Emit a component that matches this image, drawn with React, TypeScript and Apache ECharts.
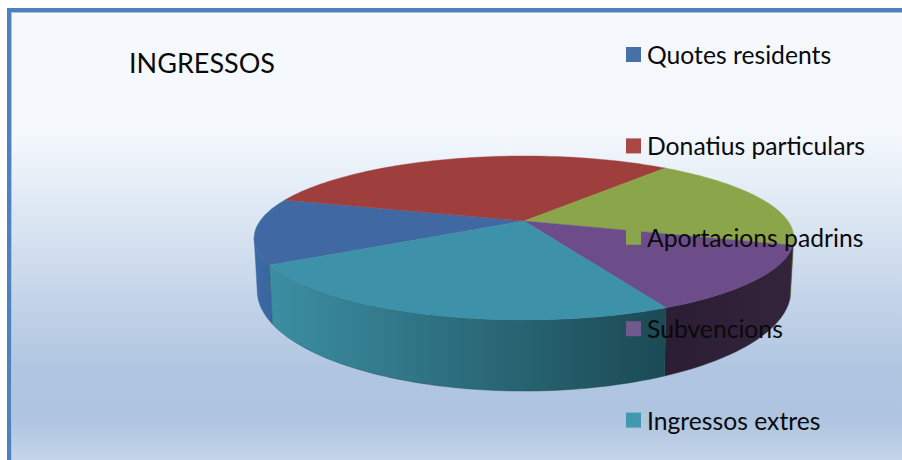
import React, { useEffect, useRef } from "react";
import * as echarts from "echarts";

const categories = ["Quotes residents", "Donatius particulars", "Aportacions padrins", "Subvencions", "Ingressos extres"];
const shares = [13, 31.1, 19, 13.1, 23.8];
const topColors = ["#4069a3", "#9e3f3d", "#8ba54a", "#6d4c8a", "#3d91a8"];
const legendColors = ["#4671a8", "#aa4643", "#89a54e", "#71588f", "#4198af"];
const sideColors = [
  ["#3c6ba8", "#3a659c"],
  ["#7a2f2d", "#7a2f2d"],
  ["#6b8038", "#5c6e30"],
  ["#2b1d33", "#33243c"],
  ["#3c8ea3", "#1b4a54"],
];
const START_DEG = 239.7;
const SILHOUETTE_RIGHT = 102;
const SILHOUETTE_LEFT = 258;

const PERSPECTIVE = 0.207;
const TOP = { cx: 524, cy: 221, a: 78.5, b: 264 };
const BOTTOM = { cx: 524, cy: 270, a: 96, b: 261 };

function project(d: { cx: number; cy: number; a: number; b: number }, deg: number) {
  const t = (deg * Math.PI) / 180;
  const X = Math.sin(t);
  const Y = -Math.cos(t);
  const w = 1 - PERSPECTIVE * Y;
  return [d.cx + (d.b * X) / w, d.cy + (d.a * Y) / w];
}

function arc(d: typeof TOP, from: number, to: number) {
  const pts: number[][] = [];
  const n = Math.max(2, Math.ceil((to - from) / 1.5));
  for (let i = 0; i <= n; i++) pts.push(project(d, from + ((to - from) * i) / n));
  return pts;
}

const total = shares.reduce((s, v) => s + v, 0);

function sliceRange(index: number) {
  let from = START_DEG;
  for (let i = 0; i < index; i++) from += (shares[i] / total) * 360;
  return [from, from + (shares[index] / total) * 360];
}

function visibleSide(from: number, to: number) {
  // The part of the rim facing the viewer, for a slice whose angles may run past 360.
  const ranges = [
    [Math.max(from, SILHOUETTE_RIGHT), Math.min(to, SILHOUETTE_LEFT)],
    [Math.max(from, SILHOUETTE_RIGHT + 360), Math.min(to, SILHOUETTE_LEFT + 360)],
  ];
  return ranges.filter(([a, b]) => b > a);
}

function makeSeries(index: number) {
  return {
    type: "custom",
    name: categories[index],
    coordinateSystem: "none",
    silent: true,
    clip: false,
    itemStyle: { color: legendColors[index] },
    data: [shares[index]],
    renderItem: () => {
      const [from, to] = sliceRange(index);
      const topArc = arc(TOP, from, to);
      const fillSide = new echarts.graphic.LinearGradient(0, 0, 1, 0, [
        { offset: 0, color: sideColors[index][0] },
        { offset: 1, color: sideColors[index][1] },
      ]);
      const sides = visibleSide(from, to).map(([a, b]) => ({
        type: "polygon",
        z2: 1,
        shape: { points: [...arc(TOP, a, b), ...arc(BOTTOM, a, b).reverse()] },
        style: { fill: fillSide, stroke: sideColors[index][1], lineWidth: 0.4 },
      }));
      return {
        type: "group",
        children: [
          ...sides,
          {
            type: "polygon",
            z2: 10,
            shape: { points: [[TOP.cx, TOP.cy], ...topArc] },
            style: { fill: topColors[index], stroke: topColors[index], lineWidth: 0.4 },
          },
        ],
      };
    },
  };
}

export default function App() {
  const ref = useRef<HTMLDivElement>(null);
  useEffect(() => {
    const chart = echarts.init(ref.current!, undefined, { renderer: "svg" });
    chart.setOption({
      animation: false,
      backgroundColor: "#ffffff",
      title: {
        text: "INGRESSOS",
        left: 129,
        top: 49,
        padding: 0,
        textStyle: { fontFamily: "Lato", fontSize: 27, fontWeight: "normal", color: "#0a0a0a" },
      },
      legend: {
        orient: "vertical",
        left: 626,
        top: 42,
        padding: 0,
        icon: "rect",
        itemWidth: 15,
        itemHeight: 15,
        itemGap: 66.4,
        selectedMode: false,
        data: categories,
        textStyle: { fontFamily: "Lato", fontSize: 24.7, color: "#0a0a0a", height: 24, lineHeight: 24, padding: [0, 0, 0, 1] },
      },
      graphic: [
        { type: "rect", z: -3, silent: true, shape: { x: 7, y: 8, width: 895, height: 452 }, style: { fill: "#4f81bd" } },
        { type: "rect", z: -2, silent: true, shape: { x: 11, y: 12, width: 891, height: 448 }, style: { fill: "#a9c3e3" } },
        {
          type: "rect",
          z: -1,
          silent: true,
          shape: { x: 12, y: 13, width: 890, height: 447 },
          style: {
            fill: new echarts.graphic.LinearGradient(0, 0, 0, 1, [
              { offset: 0, color: "#f5f9fd" },
              { offset: 0.26, color: "#f5f9fd" },
              { offset: 0.8, color: "#afc5e0" },
              { offset: 0.91, color: "#afc4e0" },
              { offset: 1, color: "#c5d5ea" },
            ]),
          },
        },
      ],
      series: categories.map((_, i) => makeSeries(i)),
    });
    return () => chart.dispose();
  }, []);
  return <div ref={ref} style={{ position: "fixed", left: 0, top: 0, width: 902, height: 460 }} />;
}
